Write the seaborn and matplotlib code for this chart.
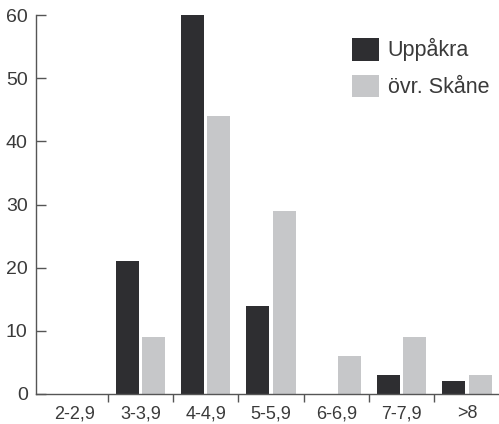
import matplotlib
matplotlib.use("Agg")
import matplotlib.pyplot as plt
import numpy as np
import pandas as pd
import seaborn as sns

# Data
categories = ["2-2,9", "3-3,9", "4-4,9", "5-5,9", "6-6,9", "7-7,9", ">8"]
uppakra = [0, 21, 60, 14, 0, 3, 2]
ovr_skane = [0, 9, 44, 29, 6, 9, 3]
series_names = ["Uppåkra", "övr. Skåne"]
colors = ["#2e2e31", "#c6c7c9"]

df = pd.DataFrame({
    "cat": categories * 2,
    "value": uppakra + ovr_skane,
    "series": [series_names[0]] * len(categories) + [series_names[1]] * len(categories),
})

sns.set_style("white")
plt.rcParams["font.family"] = ["Liberation Sans", "DejaVu Sans"]
text_color = "#3a3a3a"

fig = plt.figure(figsize=(4.99, 4.24), dpi=100)
ax = fig.add_axes([36 / 499, 30 / 424, 463 / 499, 379 / 424])

sns.barplot(
    data=df, x="cat", y="value", hue="series", order=categories,
    hue_order=series_names, palette=colors, width=0.8, gap=0.12,
    saturation=1, linewidth=0, ax=ax,
)

ax.set_ylim(0, 60)
ax.set_xlim(-0.598, 6.49)
ax.set_xlabel("")
ax.set_ylabel("")
ax.set_yticks([0, 10, 20, 30, 40, 50, 60])

for side in ["top", "right"]:
    ax.spines[side].set_visible(False)
for side in ["left", "bottom"]:
    ax.spines[side].set_color("#555555")
    ax.spines[side].set_linewidth(1.0)

ax.tick_params(axis="y", direction="in", length=7, width=1, color="#555555",
               labelsize=14, labelcolor=text_color, pad=6, left=True)
ax.tick_params(axis="x", which="major", length=0, labelsize=13,
               labelcolor=text_color, pad=8)
ax.set_xticks(np.arange(0.5, len(categories) - 1, 1.0), minor=True)
ax.tick_params(axis="x", which="minor", direction="out", length=6, width=1,
               color="#555555", bottom=True)

leg = ax.legend(
    loc="upper left", bbox_to_anchor=(0.682, 0.94), frameon=False,
    fontsize=15.5, handlelength=1.25, handleheight=1.25, labelspacing=0.62,
    handletextpad=0.42, borderpad=0, borderaxespad=0,
)
for t in leg.get_texts():
    t.set_color(text_color)

fig.savefig("out.png", dpi=100)
plt.close(fig)
